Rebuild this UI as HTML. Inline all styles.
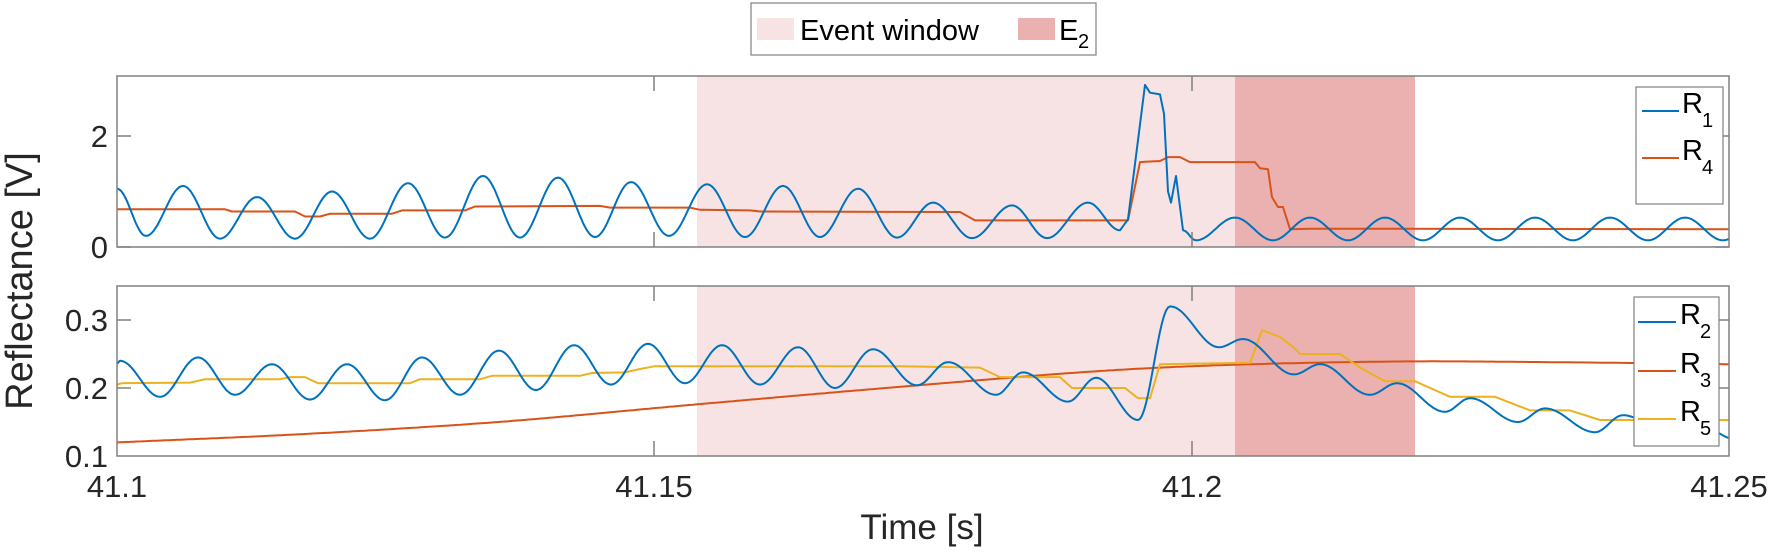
<!DOCTYPE html>
<html><head><meta charset="utf-8"><style>
html,body{margin:0;padding:0;background:#fff;}
svg{display:block;font-family:"Liberation Sans",Arial,sans-serif;}
</style></head><body>
<svg id="s" width="1772" height="553" viewBox="0 0 1772 553" xmlns="http://www.w3.org/2000/svg">
<defs>
<clipPath id="c1"><rect x="117" y="76" width="1612" height="171"/></clipPath>
<clipPath id="c2"><rect x="117" y="286" width="1612" height="170"/></clipPath>
</defs>
<!-- top panel -->
<rect x="117" y="76" width="1612" height="171" fill="#fff"/>
<rect x="697" y="76" width="538" height="171" fill="#f7e3e4"/>
<rect x="1235" y="76" width="180" height="171" fill="#ebb0b0"/>
<g clip-path="url(#c1)" fill="none" stroke-width="2" stroke-linejoin="round">
<path id="r4" stroke="#D95319"/>
<path id="r1" stroke="#0072BD"/>
</g>
<!-- bottom panel -->
<rect x="697" y="286" width="538" height="170" fill="#f7e3e4"/>
<rect x="1235" y="286" width="180" height="170" fill="#ebb0b0"/>
<g clip-path="url(#c2)" fill="none" stroke-width="2" stroke-linejoin="round">
<path id="r3" stroke="#D95319"/>
<path id="r5" stroke="#EDB120"/>
<path id="r2" stroke="#0072BD"/>
</g>
<g stroke="#808080" stroke-width="1.5" fill="none">
<rect x="117" y="76" width="1612" height="171"/>
<rect x="117" y="286" width="1612" height="170"/>
<!-- y ticks top -->
<path d="M117 136h14M1729 136h-14M117 247h14M1729 247h-14"/>
<!-- y ticks bottom -->
<path d="M117 320h14M1729 320h-14M117 388h14M1729 388h-14"/>
<!-- x ticks -->
<path d="M654 76v15M654 247v-15M1192 76v15M1192 247v-15M654 286v15M654 456v-15M1192 286v15M1192 456v-15"/>
</g>
<g fill="#262626" font-size="31" text-anchor="end">
<text x="108" y="147">2</text>
<text x="108" y="258">0</text>
<text x="108" y="331">0.3</text>
<text x="108" y="399">0.2</text>
<text x="108" y="467">0.1</text>
</g>
<g fill="#262626" font-size="31" text-anchor="middle">
<text x="117" y="497">41.1</text>
<text x="654" y="497">41.15</text>
<text x="1192" y="497">41.2</text>
<text x="1729" y="497">41.25</text>
</g>
<text x="922" y="539" font-size="35" text-anchor="middle" fill="#262626">Time [s]</text>
<text transform="translate(32,281) rotate(-90)" font-size="38" text-anchor="middle" fill="#262626">Reflectance [V]</text>
<!-- top legend -->
<rect x="751" y="3" width="345" height="52" fill="#fff" stroke="#808080" stroke-width="1.2"/>
<rect x="757" y="18" width="37" height="22" fill="#f7e3e4"/>
<text x="800" y="40" font-size="29" fill="#000">Event window</text>
<rect x="1018" y="18" width="37" height="22" fill="#ebb0b0"/>
<text x="1059" y="40" font-size="29" fill="#000">E</text>
<text x="1078" y="48" font-size="20" fill="#000">2</text>
<!-- legend R1/R4 -->
<rect x="1636" y="87" width="87" height="117" fill="#fff" stroke="#808080" stroke-width="1.2"/>
<path d="M1642 111h37" stroke="#0072BD" stroke-width="2"/>
<path d="M1642 158h37" stroke="#D95319" stroke-width="2"/>
<text x="1682" y="113" font-size="29">R</text><text x="1702" y="127" font-size="20">1</text>
<text x="1682" y="160" font-size="29">R</text><text x="1702" y="174" font-size="20">4</text>
<!-- legend R2/R3/R5 -->
<rect x="1634" y="297" width="85" height="149" fill="#fff" stroke="#808080" stroke-width="1.2"/>
<path d="M1638 322h38" stroke="#0072BD" stroke-width="2"/>
<path d="M1638 371h38" stroke="#D95319" stroke-width="2"/>
<path d="M1638 419h38" stroke="#EDB120" stroke-width="2"/>
<text x="1680" y="324" font-size="29">R</text><text x="1700" y="338" font-size="20">2</text>
<text x="1680" y="373" font-size="29">R</text><text x="1700" y="387" font-size="20">3</text>
<text x="1680" y="421" font-size="29">R</text><text x="1700" y="435" font-size="20">5</text>
</svg>
<script>
function yT(v){return 247-v*55.5;}
function yB(v){return 456-(v-0.1)*680;}
function build(pts,yf){ // pts: [x,v,mode] mode 'c' cos, 'l' linear
  var d='M'+pts[0][0]+' '+yf(pts[0][1]).toFixed(1);
  for(var i=1;i<pts.length;i++){
    var a=pts[i-1],b=pts[i];
    if(b[2]==='l'){d+='L'+b[0]+' '+yf(b[1]).toFixed(1);continue;}
    var n=Math.max(4,Math.round((b[0]-a[0])/2));
    for(var k=1;k<=n;k++){var f=k/n,w=(1-Math.cos(Math.PI*f))/2;
      d+='L'+(a[0]+(b[0]-a[0])*f).toFixed(1)+' '+yf(a[1]+(b[1]-a[1])*w).toFixed(1);}
  }
  return d;
}
function L(arr){return arr.map(function(p){return [p[0],p[1],'l'];});}
function C(arr){return arr.map(function(p){return [p[0],p[1],p[2]||'c'];});}
// R1
var r1=C([[117,1.05],[146,0.2],[183,1.1],[220,0.15],[257,0.9],[295,0.15],[332,1.0],[370,0.15],[408,1.15],[445,0.17],[483,1.28],[520,0.17],[558,1.25],[595,0.18],[631,1.17],[669,0.2],[707,1.13],[745,0.18],[783,1.1],[820,0.18],[858,1.05],[897,0.17],[933,0.8],[972,0.16],[1012,0.75],[1047,0.16],[1088,0.8],[1120,0.3],
[1128,0.5,'l'],[1145,2.92,'l'],[1150,2.78,'l'],[1160,2.75,'l'],[1164,2.4,'l'],[1168,1.0,'l'],[1171,0.8,'l'],[1176,1.28,'l'],[1183,0.3,'l'],[1196,0.12]]);
for(var x=1235,u=0;x<1780;x+=37.5,u^=1){r1.push([Math.round(x),u?0.12:0.53,'c']);}
document.getElementById('r1').setAttribute('d',build(r1,yT));
var r4=L([[117,0.68],[225,0.68],[232,0.64],[295,0.64],[305,0.55],[320,0.55],[330,0.6],[392,0.6],[402,0.66],[465,0.66],[475,0.73],[600,0.74],[610,0.71],[690,0.71],[700,0.67],[750,0.66],[760,0.64],[960,0.63],[975,0.48],[1128,0.48],[1140,1.53],[1160,1.55],[1168,1.62],[1180,1.62],[1190,1.53],[1255,1.53],[1260,1.42],[1268,1.4],[1272,0.9],[1278,0.72],[1283,0.72],[1290,0.32],[1310,0.33],[1729,0.32]]);
document.getElementById('r4').setAttribute('d',build(r4,yT));
var r2=C([[117,0.236],[120,0.24],[160,0.187],[198,0.245],[235,0.19],[272,0.235],[310,0.183],[347,0.235],[385,0.182],[422,0.245],[460,0.19],[499,0.255],[536,0.197],[574,0.263],[611,0.205],[648,0.265],[685,0.207],[722,0.263],[760,0.205],[798,0.26],[835,0.2],[873,0.257],[917,0.204],[948,0.238],[996,0.19],[1023,0.223],[1068,0.18],[1096,0.215],[1138,0.153],[1170,0.32],[1219,0.26],[1243,0.272],[1294,0.22],[1320,0.235],[1370,0.19],[1397,0.207],[1445,0.165],[1470,0.185],[1518,0.15],[1545,0.17],[1595,0.135],[1623,0.16],[1672,0.13],[1700,0.145],[1735,0.125]]);
document.getElementById('r2').setAttribute('d',build(r2,yB));
var r5=L([[117,0.205],[122,0.207],[190,0.208],[205,0.213],[280,0.213],[290,0.216],[305,0.216],[318,0.207],[410,0.207],[420,0.213],[480,0.213],[492,0.218],[580,0.218],[592,0.222],[625,0.223],[640,0.228],[655,0.232],[900,0.232],[980,0.23],[1000,0.216],[1060,0.216],[1072,0.2],[1125,0.2],[1138,0.185],[1150,0.185],[1160,0.235],[1250,0.237],[1262,0.285],[1280,0.275],[1295,0.258],[1300,0.25],[1340,0.25],[1360,0.23],[1385,0.21],[1415,0.21],[1450,0.187],[1495,0.187],[1530,0.167],[1570,0.167],[1600,0.153],[1729,0.153]]);
document.getElementById('r5').setAttribute('d',build(r5,yB));
// R3 smooth
var k3=[[117,0.12],[300,0.132],[498,0.15],[697,0.176],[910,0.203],[1100,0.225],[1230,0.234],[1400,0.239],[1550,0.238],[1729,0.235]];
var d3='';
for(var x=117;x<=1729;x+=4){var i=0;while(i<k3.length-2&&x>k3[i+1][0])i++;
  var a=k3[i],b=k3[i+1],f=(x-a[0])/(b[0]-a[0]);
  var p0=k3[Math.max(0,i-1)],p3=k3[Math.min(k3.length-1,i+2)];
  var m1=(b[1]-p0[1])/(b[0]-p0[0])*(b[0]-a[0]),m2=(p3[1]-a[1])/(p3[0]-a[0])*(b[0]-a[0]);
  var h00=2*f*f*f-3*f*f+1,h10=f*f*f-2*f*f+f,h01=-2*f*f*f+3*f*f,h11=f*f*f-f*f;
  var v=h00*a[1]+h10*m1+h01*b[1]+h11*m2;
  d3+=(d3?'L':'M')+x+' '+yB(v).toFixed(1);}
document.getElementById('r3').setAttribute('d',d3);
</script>
</body></html>
